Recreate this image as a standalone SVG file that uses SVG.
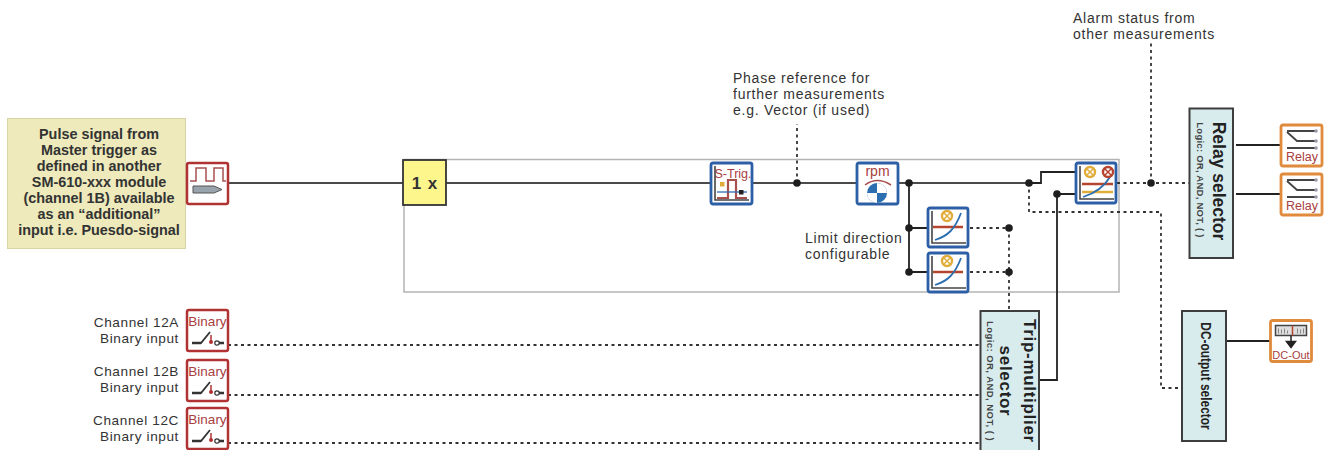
<svg xmlns="http://www.w3.org/2000/svg" width="1332" height="450" viewBox="0 0 1332 450">
<style>
text{font-family:"Liberation Sans",Arial,sans-serif;fill:#333}
.lab{font-size:14px;letter-spacing:.75px}
.ch{font-size:13.600px;letter-spacing:.6px;text-anchor:end}
.note{font-size:14.400px;font-weight:bold;text-anchor:middle;fill:#333}
.sel{fill:#d8ecee;stroke:#3d3d3d;stroke-width:2}
.sel-t{font-weight:bold;text-anchor:middle;fill:#222}
.logic{font-size:9.500px;font-weight:bold;text-anchor:middle;fill:#444;letter-spacing:.45px}
.red{fill:#fff;stroke:#b03232;stroke-width:2.500}
.blue{fill:#fff;stroke:#2c5fa5;stroke-width:2.800}
.org{fill:#fff;stroke:#e08a3c;stroke-width:2.800}
.s{fill:none;stroke:#4a4a4a;stroke-width:2}
.k{fill:none;stroke:#222;stroke-width:1.800}
.d{fill:none;stroke:#333;stroke-width:1.800;stroke-dasharray:3 3.500}
.dot{fill:#1e1e1e}
.ic{fill:#a84040;text-anchor:middle}
.ax{fill:none;stroke:#444;stroke-width:1.600}
.curve{fill:none;stroke:#2c6fb0;stroke-width:1.800}
.rl{stroke:#b5452e;stroke-width:2.500}
.yl{stroke:#e0ac3a;stroke-width:2.500}
.gear{fill:#fff;stroke:#e0ac3a;stroke-width:2.400}
.gearr{fill:#fff;stroke:#b5452e;stroke-width:2.400}
</style>
<defs>
<g id="lim">
<rect class="blue" x="1" y="1" width="40" height="39" rx="2"/>
<path class="ax" d="M5 4V36H39"/>
<path class="rl" d="M6 20H36"/>
<path class="curve" d="M8 33C21 29 28 22 34 6"/>
<circle class="gear" cx="20" cy="9" r="5"/>
<path d="M16.500 5.500L23.500 12.500M23.500 5.500L16.500 12.500" stroke="#e0ac3a" stroke-width="1.500"/>
</g>
<g id="bin">
<rect class="red" x="0" y="0" width="41" height="41" rx="2"/>
<path d="M5 33H14L23 22" fill="none" stroke="#333" stroke-width="1.800"/>
<path d="M5 33H14M29 33H37" fill="none" stroke="#333" stroke-width="2.600"/>
<circle cx="30" cy="33" r="2.200" fill="#fff" stroke="#333" stroke-width="1.200"/>
<path d="M24 25V32" stroke="#b03232" stroke-width="1.500"/>
<circle cx="24" cy="32" r="2" fill="#b03232"/>
</g>
<g id="rel">
<rect class="org" x="0" y="0" width="41" height="41" rx="2"/>
<path d="M6 6H35M6 7L16 16H35M6 23H35" fill="none" stroke="#444" stroke-width="1.800"/>
<circle cx="35" cy="6" r="1.800" fill="#99a"/><circle cx="35" cy="16" r="1.800" fill="#99a"/><circle cx="35" cy="23" r="1.800" fill="#99a"/>
</g>
</defs>

<rect id="frame" x="404" y="159.500" width="715" height="132.500" fill="none" stroke="#b4b4b4" stroke-width="1.500"/>

<g id="connectors">
<path class="s" d="M228 183H403M446 183H711M752 183H857M898 183H1029"/>
<path class="k" d="M909 183V272M909 228H928M909 272H928M1029 183H1041V172H1075M1075 194H1057V380H1039M1236 145H1280M1236 194H1280M1226 341H1270"/>
<path class="d" d="M797 183V124M970 228H1009V311M970 272H1009M1029 183V212H1161V388H1182M1117 183H1189M1151 183V43M228 345H980M228 395H980M228 443H980"/>
<circle class="dot" cx="797" cy="183" r="3.800"/>
<circle class="dot" cx="909" cy="183" r="3.800"/>
<circle class="dot" cx="909" cy="228" r="3.800"/>
<circle class="dot" cx="909" cy="272" r="3.800"/>
<circle class="dot" cx="1009" cy="228" r="3.800"/>
<circle class="dot" cx="1009" cy="272" r="3.800"/>
<circle class="dot" cx="1029" cy="183" r="3.800"/>
<circle class="dot" cx="1057" cy="194" r="3.800"/>
<circle class="dot" cx="1151" cy="183" r="3.800"/>
</g>

<g id="source-note">
<rect x="7.500" y="118.500" width="178" height="130" fill="#eeeabb" stroke="#d8d4a8"/>
<text class="note" x="99" y="139">Pulse signal from</text>
<text class="note" x="99" y="155">Master trigger as</text>
<text class="note" x="99" y="171">defined in another</text>
<text class="note" x="99" y="187">SM-610-xxx module</text>
<text class="note" x="99" y="203">(channel 1B) available</text>
<text class="note" x="99" y="219">as an “additional”</text>
<text class="note" x="99" y="235">input i.e. Puesdo-signal</text>
</g>

<g id="pulse-input" transform="translate(187 163)">
<rect class="red" x="0" y="0" width="41" height="41" rx="2"/>
<path d="M3 18H9V5H19V18H27V5H36V18H39" fill="none" stroke="#a85050" stroke-width="1.500"/>
<path d="M6 23H27L35 26.500L27 30H6Z" fill="#99a3ad" stroke="#555"/>
</g>

<g id="one-x">
<rect x="403" y="160" width="43" height="45" fill="#fdf68c" stroke="#333" stroke-width="1.800"/>
<text x="425" y="189" font-size="17" font-weight="bold" text-anchor="middle" fill="#222" letter-spacing="1">1 x</text>
</g>

<g id="s-trig" transform="translate(711 163)">
<rect class="blue" x="0" y="0" width="41" height="41" rx="2"/>
<path class="ax" d="M4 3V37H38"/>
<path d="M6 35H17V17H25V35H36" fill="none" stroke="#a85050" stroke-width="2.200"/>
<path d="M6 29H36" stroke="#2c6fb0" stroke-width="1.300"/>
<rect x="9" y="19" width="4.500" height="4.500" fill="#e0ac3a"/>
<rect x="28" y="27" width="4.500" height="4.500" fill="#222"/>
<text class="ic" x="22" y="15" font-size="12.500">S-Trig.</text>
</g>

<g id="rpm" transform="translate(857 163)">
<rect class="blue" x="0" y="0" width="41" height="41" rx="2"/>
<text class="ic" x="20.500" y="13" font-size="14">rpm</text>
<path d="M8 22Q20 13 34 22" fill="none" stroke="#a85050" stroke-width="1.500"/>
<circle cx="20" cy="30" r="10" fill="#2c6fb0"/>
<path d="M20 30V20A10 10 0 0 1 30 30ZM20 30V40A10 10 0 0 1 10 30Z" fill="#fff"/>
</g>

<g id="limit-1" transform="translate(927 207)"><use href="#lim"/></g>
<g id="limit-2" transform="translate(927 252)"><use href="#lim"/></g>

<g id="limit-alarm" transform="translate(1076 163)">
<rect class="blue" x="0" y="0" width="40" height="40" rx="2"/>
<path class="ax" d="M4 3V36H38"/>
<path class="rl" d="M6 21H37"/>
<path class="yl" d="M6 29H37"/>
<path class="curve" d="M7 34C20 30 28 24 34 14"/>
<circle class="gear" cx="14" cy="9" r="5"/>
<path d="M10.500 5.500L17.500 12.500M17.500 5.500L10.500 12.500" stroke="#e0ac3a" stroke-width="1.500"/>
<circle class="gearr" cx="32" cy="9" r="5"/>
<path d="M28.500 5.500L35.500 12.500M35.500 5.500L28.500 12.500" stroke="#b5452e" stroke-width="1.500"/>
</g>

<g id="relay-selector">
<rect class="sel" x="1189.500" y="108.500" width="43.500" height="149.500"/>
<text class="sel-t" transform="translate(1213 181) rotate(90)" font-size="17.500">Relay selector</text>
<text class="logic" transform="translate(1197 180) rotate(90)" style="letter-spacing:.25px">Logic: OR, AND, NOT, ( )</text>
</g>

<g id="relay-1" transform="translate(1281 125)"><use href="#rel"/><text class="ic" x="21" y="36" font-size="12.500">Relay</text></g>
<g id="relay-2" transform="translate(1281 174)"><use href="#rel"/><text class="ic" x="21" y="36" font-size="12.500">Relay</text></g>

<g id="dc-selector">
<rect class="sel" x="1182" y="311" width="44" height="130"/>
<text class="sel-t" transform="translate(1201 376) rotate(90) scale(.77 1)" font-size="15.500">DC-output selector</text>
</g>

<g id="dc-out" transform="translate(1270.500 320.500)">
<rect class="org" x="0" y="0" width="41" height="41" rx="2"/>
<rect x="5" y="5" width="31" height="10" fill="#ddd" stroke="#444" stroke-width="1.500"/>
<path d="M8 13V8M11 13V9M14 13V8M17 13V10M27 13V8M30 13V9M33 13V8" stroke="#888"/>
<path d="M22 5V15" stroke="#b5452e" stroke-width="1.500"/>
<path d="M20.500 15V22M16 21L20.500 27L25 21Z" stroke="#222" stroke-width="1.500" fill="#222"/>
<text class="ic" x="20.500" y="38" font-size="11">DC-Out</text>
</g>

<g id="trip-selector">
<rect class="sel" x="980.500" y="311" width="58.500" height="140"/>
<text class="sel-t" transform="translate(1024 381) rotate(90)" font-size="17" letter-spacing=".7">Trip-multiplier</text>
<text class="sel-t" transform="translate(1000 381) rotate(90)" font-size="17" letter-spacing=".7">selector</text>
<text class="logic" transform="translate(987 381) rotate(90)">Logic: OR, AND, NOT, ( )</text>
</g>

<g id="binary-a" transform="translate(187 310)"><use href="#bin"/><text class="ic" x="20.500" y="15.500" font-size="13.500">Binary</text></g>
<g id="binary-b" transform="translate(187 360)"><use href="#bin"/><text class="ic" x="20.500" y="15.500" font-size="13.500">Binary</text></g>
<g id="binary-c" transform="translate(187 408)"><use href="#bin"/><text class="ic" x="20.500" y="15.500" font-size="13.500">Binary</text></g>

<g id="labels">
<text class="lab" x="733" y="83">Phase reference for</text>
<text class="lab" x="733" y="99">further measurements</text>
<text class="lab" x="733" y="115">e.g. Vector (if used)</text>
<text class="lab" x="1073" y="23">Alarm status from</text>
<text class="lab" x="1073" y="39">other measurements</text>
<text class="lab" x="805" y="243">Limit direction</text>
<text class="lab" x="805" y="259">configurable</text>
<text class="ch" x="179" y="327">Channel 12A</text>
<text class="ch" x="179" y="343">Binary input</text>
<text class="ch" x="179" y="376">Channel 12B</text>
<text class="ch" x="179" y="392">Binary input</text>
<text class="ch" x="179" y="425">Channel 12C</text>
<text class="ch" x="179" y="441">Binary input</text>
</g>
</svg>
